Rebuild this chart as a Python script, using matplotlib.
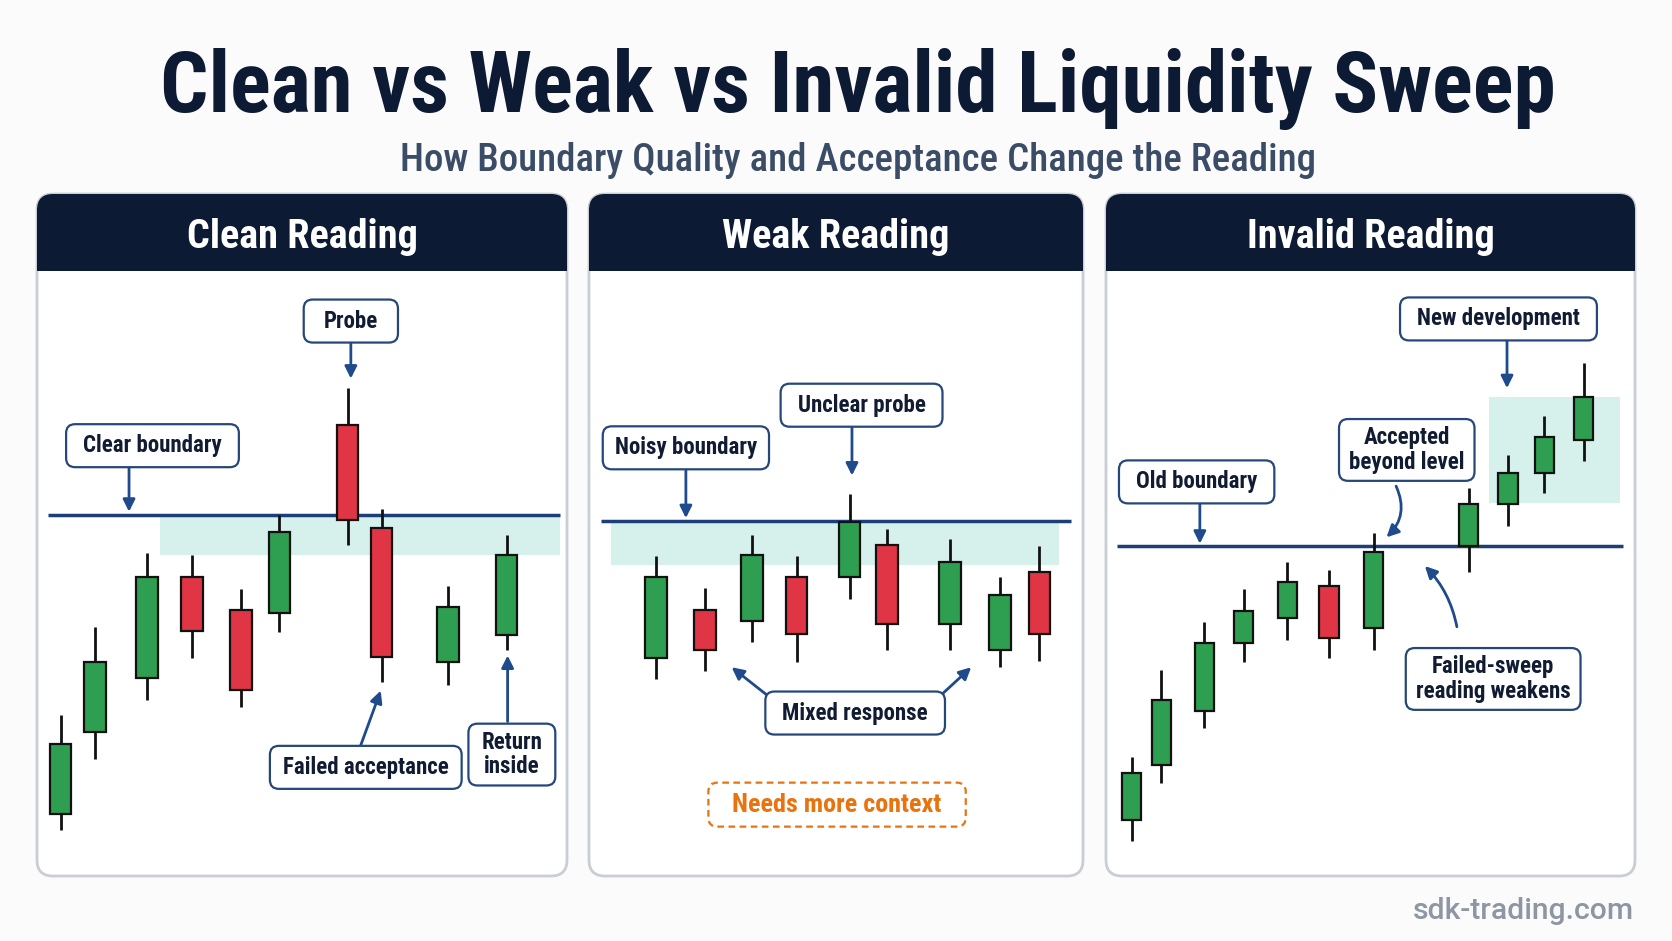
import matplotlib.pyplot as plt
from matplotlib import font_manager as fm
from matplotlib.patches import FancyBboxPatch, Rectangle
from matplotlib.transforms import IdentityTransform

W, H = 1672, 941

NAVY = '#0c1a33'
LINE = '#1d3f78'
ARROW = '#1f4a8c'
BOX_EDGE = '#26477a'
TEXT = '#111c33'
GREEN = '#2e9e50'
RED = '#e03545'
ZONE = '#d6f0eb'
ORANGE = '#e8730f'

# ---- data: prices on an arbitrary scale, boundary level = 100 ----
clean_t = [5.7, 8.9, 13.8, 18.0, 22.6, 26.2, 32.6, 35.8, 42.0, 47.5]
clean_open = [71.9, 79.6, 84.7, 94.2, 91.1, 90.8, 108.4, 98.8, 86.2, 88.7]
clean_high = [81.2, 89.5, 96.4, 96.2, 93.0, 100.0, 111.9, 100.6, 93.3, 98.1]
clean_low = [70.4, 77.1, 82.6, 86.6, 82.0, 89.0, 97.2, 84.3, 84.0, 87.3]
clean_close = [78.5, 86.2, 94.2, 89.1, 83.6, 98.4, 99.5, 86.7, 91.4, 96.2]
clean_level = 100.0
clean_zone = (15.0, 52.5, 96.2, 100.0)

weak_t = [61.5, 66.1, 70.5, 74.7, 79.7, 83.2, 89.1, 93.8, 97.5]
weak_open = [87.2, 91.7, 90.6, 94.8, 94.8, 97.8, 90.4, 87.9, 95.2]
weak_high = [96.7, 93.7, 98.7, 96.7, 102.6, 99.3, 98.3, 94.8, 97.7]
weak_low = [85.2, 85.9, 88.7, 86.8, 92.7, 87.9, 87.9, 86.3, 86.9]
weak_close = [94.8, 87.9, 96.8, 89.4, 99.9, 90.4, 96.2, 93.1, 89.4]
weak_level = 100.0
weak_zone = (57.3, 99.3, 95.9, 100.0)

invalid_t = [106.1, 108.9, 112.9, 116.6, 120.7, 124.6, 128.8, 137.7, 141.4, 144.8, 148.5]
invalid_open = [74.3, 79.4, 84.5, 90.9, 93.2, 96.2, 92.3, 100.0, 103.9, 106.8, 109.9]
invalid_high = [80.2, 88.3, 92.8, 95.9, 98.5, 97.7, 101.2, 105.4, 108.5, 112.2, 117.2]
invalid_low = [72.3, 77.7, 82.9, 89.1, 91.2, 89.5, 90.2, 97.5, 101.9, 105.0, 108.0]
invalid_close = [78.7, 85.5, 90.9, 93.9, 96.6, 91.3, 99.4, 103.9, 106.8, 110.2, 114.0]
invalid_level = 100.0
invalid_zone = (139.6, 151.9, 104.0, 114.0)

panel_titles = ['Clean Reading', 'Weak Reading', 'Invalid Reading']


# pick a condensed face if one is installed, else plain DejaVu Sans
def find_face(target_weight):
    prefs = ['roboto', 'notosans', 'noto', 'opensans', 'liberation', 'dejavu']
    best, best_score = None, None
    for f in fm.fontManager.ttflist:
        low = f.fname.lower().replace('-', '').replace('_', '')
        if 'italic' in low or 'oblique' in low:
            continue
        if not ('condensed' in low or 'narrow' in low):
            continue
        if 'extracondensed' in low or 'ultracondensed' in low:
            continue
        fam = next((i for i, p in enumerate(prefs) if p in low), len(prefs))
        w = f.weight if isinstance(f.weight, int) else fm.weight_dict.get(f.weight, 400)
        score = (fam, abs(w - target_weight))
        if best_score is None or score < best_score:
            best, best_score = f.fname, score
    return best


FACES = {'black': find_face(900), 'heavy': find_face(800),
         'bold': find_face(700), 'med': find_face(500)}


def font(kind, size):
    path = FACES[kind]
    if path:
        return fm.FontProperties(fname=path, size=size)
    return fm.FontProperties(family='DejaVu Sans', size=size,
                             weight='normal' if kind == 'med' else 'bold')


fig = plt.figure(figsize=(W / 100, H / 100), dpi=100)
fig.patch.set_facecolor('#fbfbfc')
renderer = fig.canvas.get_renderer()


def fit(text, target_px):
    w = text.get_window_extent(renderer).width
    text.set_fontsize(text.get_fontsize() * target_px / w)


# background layer in pixel units (y down) for panel frames and headings
bg = fig.add_axes([0, 0, 1, 1])
bg.set_xlim(0, W)
bg.set_ylim(H, 0)
bg.axis('off')

panels = [(37, 567), (589, 1083), (1106, 1635)]
top, head_bot, bot = 194, 271, 876

heads = []
for (x0, x1), title in zip(panels, panel_titles):
    bg.add_patch(FancyBboxPatch((x0, top), x1 - x0, bot - top,
                                boxstyle='round,pad=0,rounding_size=16',
                                facecolor='white', edgecolor='#c9cdd4', lw=2))
    bg.add_patch(FancyBboxPatch((x0, top), x1 - x0, head_bot - top,
                                boxstyle='round,pad=0,rounding_size=16',
                                facecolor=NAVY, edgecolor='none'))
    bg.add_patch(Rectangle((x0, top + 40), x1 - x0, head_bot - top - 40,
                           facecolor=NAVY, edgecolor='none'))
    heads.append(bg.text((x0 + x1) / 2, 237, title, color='white',
                         fontproperties=font('heavy', 30), ha='center', va='center'))
fit(heads[0], 231)
for h in heads[1:]:
    h.set_fontsize(heads[0].get_fontsize())

title = bg.text(858, 112, 'Clean vs Weak vs Invalid Liquidity Sweep', color=NAVY,
                fontproperties=font('black', 60), ha='center', va='baseline')
fit(title, 1397)
sub = bg.text(858, 171, 'How Boundary Quality and Acceptance Change the Reading',
              color='#3b4c66', fontproperties=font('med', 26),
              ha='center', va='baseline')
fit(sub, 918)
mark = bg.text(1634, 919, 'sdk-trading.com', color='#8d96a3', fontsize=21,
               family=['Roboto', 'DejaVu Sans'], fontweight='medium',
               ha='right', va='baseline')
fit(mark, 221)

# label font size: "Noisy boundary" is about 142 px wide in the reference
probe_txt = bg.text(0, 0, 'Noisy boundary', fontproperties=font('bold', 16))
fit(probe_txt, 142)
LABEL_SIZE = probe_txt.get_fontsize()
probe_txt.remove()


def chart_axes(x0, x1, xlim, ylim):
    ax = fig.add_axes([x0 / W, (H - bot) / H, (x1 - x0) / W, (bot - head_bot) / H])
    ax.set_xlim(*xlim)
    ax.set_ylim(*ylim)
    ax.axis('off')
    return ax


def draw_candles(ax, t, o, h, l, c, width=2.0):
    colors = [GREEN if ci >= oi else RED for oi, ci in zip(o, c)]
    bottoms = [min(oi, ci) for oi, ci in zip(o, c)]
    heights = [abs(ci - oi) for oi, ci in zip(o, c)]
    ax.vlines(t, l, h, color='#111111', lw=2, zorder=3)
    ax.bar(t, heights, width, bottom=bottoms, color=colors,
           edgecolor='#111111', linewidth=1.6, zorder=4)


def draw_level(ax, level, x0, x1, zone):
    zx0, zx1, zy0, zy1 = zone
    ax.add_patch(Rectangle((zx0, zy0), zx1 - zx0, zy1 - zy0,
                           facecolor=ZONE, edgecolor='none', zorder=1))
    ax.hlines(level, x0, x1, color=LINE, lw=2.5, zorder=2)


boxes = []


def label(ax, x, y, s, color=TEXT, edge=BOX_EDGE, ls='-', padx=17, pady=10, size=None):
    t = ax.text(x, y, s, ha='center', va='center', color=color, zorder=7,
                fontproperties=font('bold', size or LABEL_SIZE), linespacing=1.1)
    boxes.append((ax, t, edge, ls, padx, pady))
    return t


def arrow(ax, start, end, rad=0.0):
    ax.annotate('', xy=end, xytext=start, zorder=5,
                arrowprops=dict(arrowstyle='-|>', color=ARROW, lw=2,
                                mutation_scale=18,
                                connectionstyle=f'arc3,rad={rad}',
                                shrinkA=0, shrinkB=0))


# ---- Clean reading ----
ax1 = chart_axes(37, 567, (3.47, 53.17), (66.1, 122.9))
draw_level(ax1, clean_level, 4.5, 52.5, clean_zone)
draw_candles(ax1, clean_t, clean_open, clean_high, clean_low, clean_close)
label(ax1, 32.9, 118.2, 'Probe', padx=20)
arrow(ax1, (32.9, 116.2), (32.9, 112.8))
label(ax1, 14.3, 106.5, 'Clear boundary')
arrow(ax1, (12.1, 104.5), (12.1, 100.3))
label(ax1, 34.3, 76.3, 'Failed acceptance', padx=13)
arrow(ax1, (33.8, 78.3), (35.7, 83.5))
label(ax1, 48.0, 77.5, 'Return\ninside', padx=13, pady=7)
arrow(ax1, (47.6, 80.6), (47.6, 86.8))

# ---- Weak reading ----
ax2 = chart_axes(589, 1083, (55.2, 101.6), (66.7, 123.5))
draw_level(ax2, weak_level, 56.3, 100.5, weak_zone)
draw_candles(ax2, weak_t, weak_open, weak_high, weak_low, weak_close)
label(ax2, 64.3, 106.9, 'Noisy boundary', padx=12)
arrow(ax2, (64.3, 105.0), (64.3, 100.3))
label(ax2, 80.8, 110.9, 'Unclear probe')
arrow(ax2, (79.9, 108.9), (79.9, 104.3))
label(ax2, 80.2, 82.0, 'Mixed response')
arrow(ax2, (71.9, 83.7), (68.6, 86.3))
arrow(ax2, (88.5, 83.9), (91.1, 86.3))
needs = label(ax2, 78.5, 73.4, 'Needs more context', color=ORANGE, edge=ORANGE,
              ls=(0, (3, 2)), padx=24, pady=10, size=LABEL_SIZE * 1.2)
fit(needs, 210)

# ---- Invalid reading ----
ax3 = chart_axes(1106, 1635, (103.7, 153.3), (69.0, 125.8))
draw_level(ax3, invalid_level, 104.7, 152.2, invalid_zone)
draw_candles(ax3, invalid_t, invalid_open, invalid_high, invalid_low,
             invalid_close, width=1.8)
label(ax3, 140.5, 121.3, 'New development')
arrow(ax3, (141.3, 119.3), (141.3, 114.8))
label(ax3, 112.2, 106.0, 'Old boundary')
arrow(ax3, (112.5, 104.0), (112.5, 100.2))
label(ax3, 131.9, 109.0, 'Accepted\nbeyond level', padx=10, pady=7)
arrow(ax3, (130.9, 105.6), (130.0, 100.8), rad=-0.35)
label(ax3, 140.0, 87.5, 'Failed-sweep\nreading weakens', padx=10, pady=7)
arrow(ax3, (136.6, 92.4), (133.6, 98.1), rad=0.15)

# rounded boxes sized from the rendered text extents
for ax, t, edge, ls, padx, pady in boxes:
    bb = t.get_window_extent(renderer)
    ax.add_patch(FancyBboxPatch((bb.x0 - padx, bb.y0 - pady),
                                bb.width + 2 * padx, bb.height + 2 * pady,
                                boxstyle='round,pad=0,rounding_size=9',
                                transform=IdentityTransform(), clip_on=False,
                                facecolor='white', edgecolor=edge, lw=1.6,
                                linestyle=ls, zorder=6))

fig.savefig('out.png', dpi=100, facecolor=fig.get_facecolor())
